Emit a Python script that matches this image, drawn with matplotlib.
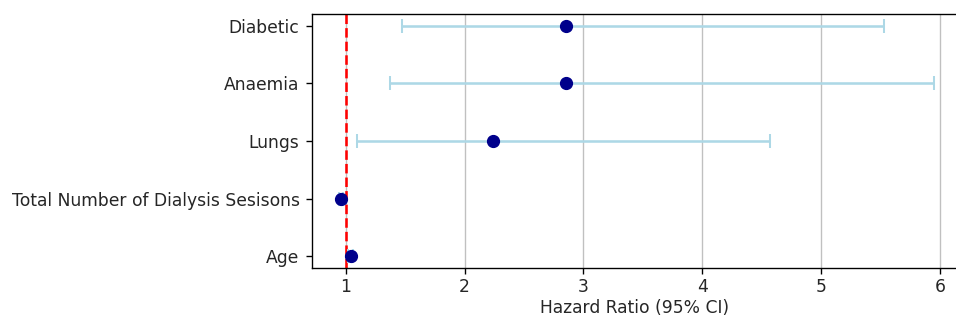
import matplotlib
matplotlib.use("Agg")
import matplotlib.pyplot as plt
import numpy as np

variables = ["Age", "Total Number of Dialysis Sesisons", "Lungs", "Anaemia", "Diabetic"]
hazard_ratio = [1.04, 0.96, 2.24, 2.85, 2.85]
ci_lower = [1.02, 0.94, 1.09, 1.37, 1.47]
ci_upper = [1.06, 0.98, 4.57, 5.95, 5.53]

hr = np.array(hazard_ratio)
lo = np.array(ci_lower)
hi = np.array(ci_upper)
y = np.arange(len(variables))

s = 1.23
plt.rcParams.update({
    'font.size': 10 * s,
    'axes.linewidth': 0.8 * s,
    'xtick.major.size': 3.5 * s,
    'ytick.major.size': 3.5 * s,
    'xtick.major.width': 0.8 * s,
    'ytick.major.width': 0.8 * s,
    'xtick.major.pad': 3.0,
    'ytick.major.pad': 3.5 * s,
    'text.color': '#262626',
    'xtick.labelcolor': '#262626',
    'ytick.labelcolor': '#262626',
    'axes.labelcolor': '#262626',
})

fig = plt.figure(figsize=(9.56, 3.2), dpi=100)
ax = fig.add_axes([311.5 / 956, 1 - 268 / 320, (958 - 311.5) / 956, (268 - 14) / 320])
ax.errorbar(hr, y, xerr=[hr - lo, hi - hr], fmt='o', color='darkblue',
            ecolor='lightblue', elinewidth=1.5 * s, capsize=4 * s, capthick=1.2 * s,
            markersize=8.5, zorder=3)
ax.axvline(1, color='red', linestyle='--', linewidth=1.5 * s)
ax.set_yticks(y)
ax.set_yticklabels(variables)
ax.set_xlabel("Hazard Ratio (95% CI)", labelpad=2)
ax.grid(axis='x', color='#c0c0c0', linewidth=0.8 * s)
ax.set_axisbelow(True)
ax.set_xlim(0.711, 6.153)
ax.set_ylim(-0.2, 4.2)
fig.savefig("out.png", dpi=100)
